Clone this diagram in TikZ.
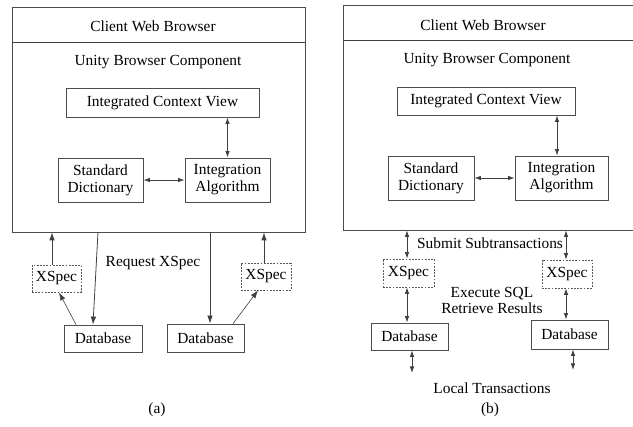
\documentclass[tikz,border=0pt]{standalone}
\usepackage{fontspec}
\setmainfont{Liberation Serif}
\usetikzlibrary{arrows.meta,calc}
\begin{document}
\begin{tikzpicture}[x=1pt,y=-1pt,
  font=\fontsize{15.4}{17}\selectfont,
  line width=0.8pt,
  ln/.style={draw=black!75},
  box/.style={draw=black!70,line width=0.8pt,rectangle,inner sep=0pt,align=center},
  xspec/.style={box,draw=black!65,dash pattern=on 1.8pt off 1.4pt,line width=0.7pt},
  lbl/.style={inner sep=0pt,align=center},
  arr/.style={ln,-{Latex[length=8pt,width=5.5pt]}},
  darr/.style={ln,{Latex[length=6.5pt,width=4.5pt]}-{Latex[length=6.5pt,width=4.5pt]}}
]
\useasboundingbox (0,0) rectangle (633,427);

% ---------- panel (a) ----------
\node[box,minimum width=293pt,minimum height=225pt] (LA) at (158.5,119.5) {};
\draw[ln] (LA.west |- 0,42) -- (LA.east |- 0,42);
\node[lbl] (cwbA) at (153,26) {Client Web Browser};
\node[lbl] (ubcA) at (158,62) {Unity Browser Component};
\node[box,minimum width=193pt,minimum height=29pt] (icvA) at (162.5,102.5) {Integrated Context View};
\node[box,minimum width=85pt,minimum height=44pt] (sdA) at (100.5,180) {Standard\\Dictionary};
\node[box,minimum width=85pt,minimum height=44pt] (iaA) at (227.5,180) {Integration\\Algorithm};
\draw[darr] (iaA.north) -- (iaA.north |- icvA.south);
\draw[darr] (sdA.east) -- (iaA.west);

\node[xspec,minimum width=49pt,minimum height=27pt] (xs1) at (56.5,278.5) {XSpec};
\node[xspec,minimum width=50pt,minimum height=27pt] (xs2) at (266,276.5) {XSpec};
\node[box,minimum width=78pt,minimum height=27pt] (db1) at (103,338.5) {Database};
\node[box,minimum width=77pt,minimum height=28pt] (db2) at (205.5,338) {Database};
\node[lbl] (reqA) at (153,263) {Request XSpec};

\coordinate (q1) at (98,232);
\coordinate (q2) at (210,232);
\draw[arr] ([xshift=-4.5pt]xs1.north) -- ([xshift=-4.5pt]xs1.north |- LA.south);
\draw[arr] ([xshift=-2pt]xs2.north) -- ([xshift=-2pt]xs2.north |- LA.south);
\draw[arr,line width=0.6pt] ([xshift=-27pt]db1.north) -- ([xshift=2.5pt]xs1.south);
\draw[arr,line width=0.6pt] ([xshift=27.5pt]db2.north) -- ([xshift=-8pt]xs2.south);
\draw[arr] (q1) -- ([xshift=-10pt]db1.north);
\draw[arr] (q2) -- (q2 |- db2.north);
\node[lbl] (capA) at (157,410) {(a)};

% ---------- panel (b) ----------
\node[box,minimum width=297pt,minimum height=225pt] (LB) at (491.5,117.5) {};
\draw[ln] (LB.west |- 0,40) -- (LB.east |- 0,40);
\node[lbl] (cwbB) at (483,25) {Client Web Browser};
\node[lbl] (ubcB) at (487,60) {Unity Browser Component};
\node[box,minimum width=178pt,minimum height=28pt] (icvB) at (486,101) {Integrated Context View};
\node[box,minimum width=86pt,minimum height=44pt] (sdB) at (431,178) {Standard\\Dictionary};
\node[box,minimum width=93pt,minimum height=44pt] (iaB) at (561.5,178) {Integration\\Algorithm};
\draw[darr] ([xshift=-4.5pt]iaB.north) -- ([xshift=-4.5pt]iaB.north |- icvB.south);
\draw[darr] (sdB.east) -- (iaB.west);

\node[xspec,minimum width=51pt,minimum height=28pt] (xs3) at (408.5,273) {XSpec};
\node[xspec,minimum width=50pt,minimum height=28pt] (xs4) at (567,274) {XSpec};
\node[box,minimum width=77pt,minimum height=27pt] (db3) at (409.5,336.5) {Database};
\node[box,minimum width=77pt,minimum height=29pt] (db4) at (569.5,334.5) {Database};

\node[lbl] (subB) at (490,243) {Submit Subtransactions};
\node[lbl] (sqlB) at (492,300) {Execute SQL\\[-1pt]Retrieve Results};
\node[lbl] (locB) at (492,388) {Local Transactions};
\node[lbl] (capB) at (490,410) {(b)};

\draw[darr] ([xshift=-1.5pt]xs3.north) -- ([xshift=-1.5pt]xs3.north |- LB.south);
\draw[darr] ([xshift=-1pt]xs4.north) -- ([xshift=-1pt]xs4.north |- LB.south);
\draw[darr] ([xshift=-1.5pt]xs3.south) -- ([xshift=-1.5pt]xs3.south |- db3.north);
\draw[darr] ([xshift=-1pt]xs4.south) -- ([xshift=-1pt]xs4.south |- db4.north);
\coordinate (lt1) at (412,373);
\coordinate (lt2) at (573,370);
\draw[darr] (lt1 |- db3.south) -- (lt1);
\draw[darr] (lt2 |- db4.south) -- (lt2);
\end{tikzpicture}
\end{document}
